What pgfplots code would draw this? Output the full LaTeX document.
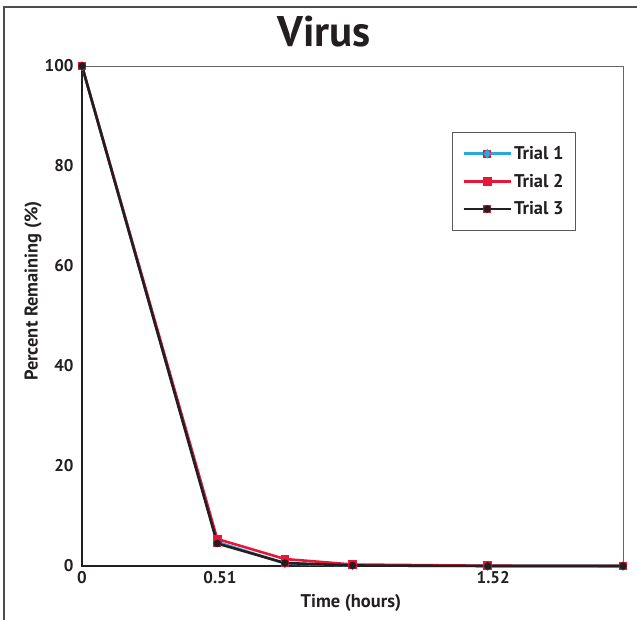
\documentclass[border=0pt]{standalone}
\usepackage{fontspec}
\setmainfont{PT Sans}
\usepackage{pgfplots}
\pgfplotsset{compat=1.18}
\definecolor{tblue}{RGB}{41,168,224}
\definecolor{tred}{RGB}{232,23,58}
\definecolor{tblack}{RGB}{35,31,32}
\pgfdeclareplotmark{sqdiamond}{%
  \pgfpathrectangle{\pgfqpoint{-4pt}{-4pt}}{\pgfqpoint{8pt}{8pt}}%
  \pgfsetfillcolor{tred}\pgfusepathqfill
  \pgfpathmoveto{\pgfqpoint{0pt}{5pt}}\pgfpathlineto{\pgfqpoint{3.6pt}{0pt}}%
  \pgfpathlineto{\pgfqpoint{0pt}{-5pt}}\pgfpathlineto{\pgfqpoint{-3.6pt}{0pt}}\pgfpathclose
  \pgfsetfillcolor{tblue}\pgfusepathqfill}
\pgfdeclareplotmark{sqred}{%
  \pgfpathrectangle{\pgfqpoint{-4.3pt}{-4.3pt}}{\pgfqpoint{8.6pt}{8.6pt}}%
  \pgfsetfillcolor{tred}\pgfusepathqfill}
\pgfdeclareplotmark{sqcircle}{%
  \pgfpathrectangle{\pgfqpoint{-4pt}{-4pt}}{\pgfqpoint{8pt}{8pt}}%
  \pgfsetfillcolor{tred}\pgfusepathqfill
  \pgfpathcircle{\pgfqpoint{0pt}{0pt}}{3.8pt}%
  \pgfsetfillcolor{tblack}\pgfusepathqfill}
\begin{document}
\begin{tikzpicture}[x=1bp,y=1bp]
\begin{axis}[
  at={(82bp,54bp)}, anchor=south west,
  scale only axis, width=541bp, height=500bp,
  xmin=0, xmax=2, ymin=0, ymax=100,
  clip=false,
  axis line style={draw=none},
  xtick={0,0.51,1.52}, xticklabels={0,0.51,1.52},
  ytick={0,20,40,60,80,100},
  major tick length=0pt,
  tick label style={font=\fontsize{17}{19}\selectfont\bfseries, text=tblack},
  /pgf/number format/assume math mode=true,
  xticklabel style={yshift=-2bp},
  yticklabel style={xshift=-5bp},
  xlabel={Time (hours)}, ylabel={Percent Remaining (\%)},
  label style={font=\fontsize{18.5}{21}\selectfont\bfseries, text=tblack},
  xlabel style={at={(rel axis cs:0.497,-0.074)}, anchor=center},
  ylabel style={at={(rel axis cs:-0.0906,0.55)}, anchor=center},
  legend style={at={(rel axis cs:0.684,0.868)}, anchor=north west,
    draw=gray!70!black, line width=0.8pt, font=\fontsize{18.5}{21}\selectfont\bfseries,
    text=tblack, row sep=9bp, inner xsep=10bp, inner ysep=12bp,
    /tikz/column 2/.style={column sep=0bp}},
  legend cell align=left,
  legend image code/.code={\draw[#1] (0bp,0bp) -- (47bp,0bp); \draw[#1, mark repeat=2,mark phase=2] plot coordinates {(0bp,0bp) (23.5bp,0bp) (47bp,0bp)};},
  legend style={/tikz/every even column/.append style={column sep=6bp}},
]
\draw[gray!80!black, line width=0.9pt] (rel axis cs:0,1) -- (rel axis cs:1,1) -- (rel axis cs:1,0);
\draw[tblack, line width=1.2pt] (rel axis cs:0,1) -- (rel axis cs:0,0) -- (rel axis cs:1,0);
\addplot[tblue, line width=2.6pt, mark=sqdiamond] coordinates {(0,100) (0.5,4.8) (0.75,0.5) (1,0.1) (1.5,0) (2,0)};
\addplot[tred, line width=2.6pt, mark=sqred] coordinates {(0,100) (0.5,5.4) (0.75,1.4) (1,0.3) (1.5,0.05) (2,0)};
\addplot[tblack, line width=2.6pt, mark=sqcircle] coordinates {(0,100) (0.5,4.5) (0.75,0.6) (1,0.1) (1.5,0) (2,0)};
\legend{Trial 1, Trial 2, Trial 3}
\end{axis}
\node[font=\fontsize{43}{47}\selectfont\bfseries, text=tblack, anchor=base] at (324bp,573bp) {Virus};
\draw[gray!60!black, line width=1.5pt] (4bp,-20bp) -- (4bp,613bp) -- (660bp,613bp);
\pgfresetboundingbox
\path[use as bounding box] (0,0) rectangle (637bp,620bp);
\end{tikzpicture}
\end{document}
